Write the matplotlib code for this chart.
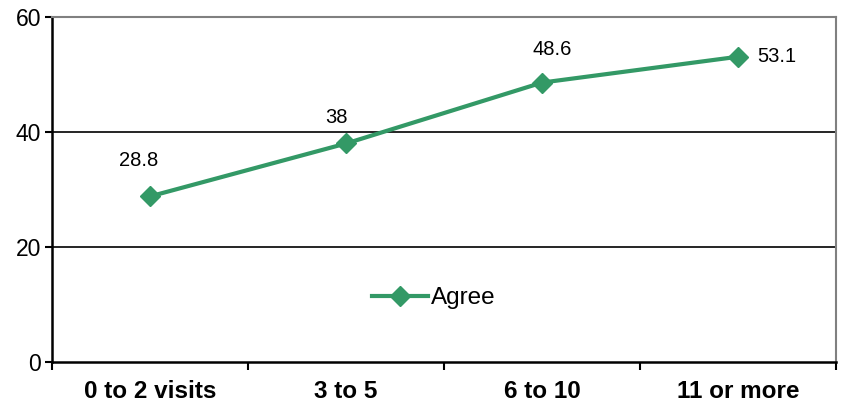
import matplotlib.pyplot as plt
import numpy as np

plt.rcParams['font.family'] = ['Liberation Sans', 'DejaVu Sans']

categories = ['0 to 2 visits', '3 to 5', '6 to 10', '11 or more']
agree = [28.8, 38, 48.6, 53.1]
yticks = [0, 20, 40, 60]

green = '#339966'

fig = plt.figure(figsize=(8.41, 4.07), dpi=100)
ax = fig.add_axes([0.062, 0.111, 0.932, 0.847])

x = np.arange(len(categories))
ax.plot(x, agree, color=green, lw=3, marker='D', markersize=10, label='Agree', zorder=3)

# data labels
offsets = [(-8, 26), (-7, 19), (7, 24), (14, 0)]
for xi, yi, (dx, dy) in zip(x, agree, offsets):
    ha = 'left' if dx > 10 else 'center'
    ax.annotate(f'{yi:g}', (xi, yi), xytext=(dx, dy), textcoords='offset points',
                ha=ha, va='center', fontsize=14.5)

ax.set_xlim(-0.5, len(categories) - 0.5)
ax.set_ylim(0, 60)
ax.set_yticks(yticks)
ax.tick_params(axis='y', labelsize=16.5, length=5, width=1.5, direction='out', pad=3)
for v in yticks[1:-1]:
    ax.axhline(v, color='black', lw=1.2, zorder=1)

ax.set_xticks(x)
ax.set_xticklabels(categories, fontsize=17.5, fontweight='bold')
ax.tick_params(axis='x', length=0, pad=13)
ax.set_xticks(np.arange(-0.5, len(categories)), minor=True)
ax.tick_params(axis='x', which='minor', length=6, width=1.5, direction='out')

ax.spines['left'].set_linewidth(1.8)
ax.spines['bottom'].set_linewidth(1.8)
ax.spines['top'].set_color('#808080')
ax.spines['right'].set_color('#808080')
ax.spines['top'].set_linewidth(1.5)
ax.spines['right'].set_linewidth(1.5)

ax.legend(loc='center', bbox_to_anchor=(0.487, 0.185), frameon=False, fontsize=17.5,
          handlelength=2.3, handletextpad=0.15)

fig.savefig('out.png', dpi=100)
